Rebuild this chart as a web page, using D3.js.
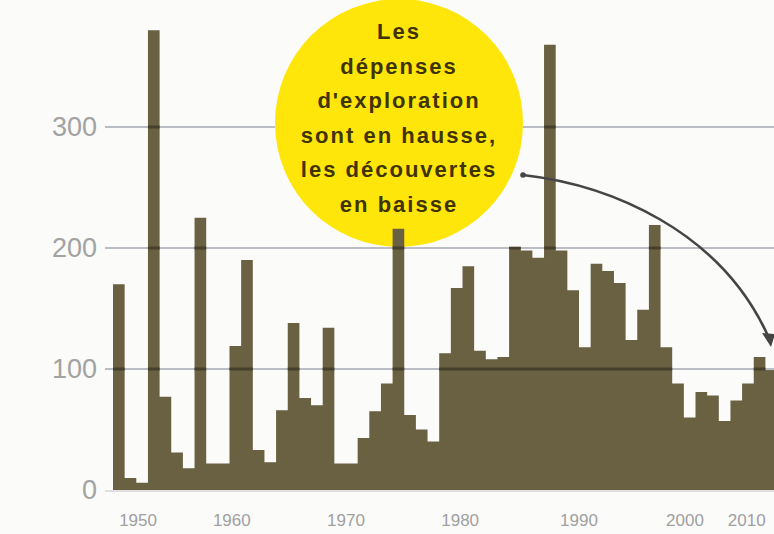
<!DOCTYPE html>
<html>
<head>
<meta charset="utf-8">
<script src="https://cdn.jsdelivr.net/npm/d3@7"></script>
<style>
  html, body { margin: 0; padding: 0; background: #fbfbfa; }
  svg { display: block; }
</style>
</head>
<body>
<svg id="chart" width="774" height="534"></svg>
<script>
// ---- data ----
const barValues = [170, 10, 6, 380, 77, 31, 18, 225, 22, 22,
                   119, 190, 33, 23, 66, 138, 76, 70, 134, 22,
                   22, 43, 65, 88, 216, 62, 50, 40, 113, 167,
                   185, 115, 108, 110, 201, 198, 192, 368, 198, 165,
                   118, 187, 181, 171, 124, 149, 219, 118, 88, 60,
                   81, 78, 57, 74, 88, 110, 99];
const yTicks = [0, 100, 200, 300];
const gridValues = [100, 200, 300];
const xTickLabels = ["1950", "1960", "1970", "1980", "1990", "2000", "2010"];
const xTickAt = [2.15, 10.2, 20.0, 29.8, 40.0, 49.1, 54.4]; // positions in bar units
const noteLines = ["Les", "dépenses", "d'exploration", "sont en hausse,", "les découvertes", "en baisse"];

// ---- scales ----
const svg = d3.select("#chart");
const x = d3.scaleLinear().domain([0, barValues.length]).range([113, 113 + barValues.length * 11.65]);
const y = d3.scaleLinear().domain([0, 300]).range([490, 127]);

const stepData = barValues.concat([barValues[barValues.length - 1]]);
const area = d3.area()
  .x((d, i) => x(i))
  .y0(y(0))
  .y1(d => y(d))
  .curve(d3.curveStepAfter);

const defs = svg.append("defs");
// mask so gridlines pass behind the yellow note
const mask = defs.append("mask").attr("id", "noteMask");
mask.append("rect").attr("x", 0).attr("y", 0).attr("width", 774).attr("height", 534).attr("fill", "white");
mask.append("circle").attr("cx", 399).attr("cy", 123).attr("r", 124).attr("fill", "black");
// clip to the bar silhouette, for the darker parts of gridlines
defs.append("clipPath").attr("id", "barClip")
  .append("path").attr("d", area(stepData));

// baseline
svg.append("line")
  .attr("x1", 105).attr("x2", 774)
  .attr("y1", y(0) + 1).attr("y2", y(0) + 1)
  .attr("stroke", "#d6d6d4").attr("stroke-width", 1.5);

// light gridlines (behind)
svg.append("g").attr("mask", "url(#noteMask)")
  .selectAll("line").data(gridValues).join("line")
  .attr("x1", 105).attr("x2", 774)
  .attr("y1", d => y(d)).attr("y2", d => y(d))
  .attr("stroke", "#babdc3")
  .attr("stroke-width", 2);

// yellow note circle
const note = svg.append("g");
note.append("circle")
  .attr("cx", 399).attr("cy", 123).attr("r", 124)
  .attr("fill", "#ffe60a");
note.selectAll("text").data(noteLines).join("text")
  .attr("x", 399)
  .attr("y", (d, i) => 39 + i * 34.5)
  .attr("text-anchor", "middle")
  .attr("font-family", "Liberation Sans, Arial, sans-serif")
  .attr("font-weight", "bold")
  .attr("font-size", 22)
  .attr("letter-spacing", 2)
  .attr("fill", "#3f3300")
  .text(d => d);

// bars as one stepped silhouette
svg.append("path")
  .attr("d", area(stepData))
  .attr("fill", "#6a6042");

// darker gridline parts over the bars
svg.append("g").attr("clip-path", "url(#barClip)")
  .selectAll("line").data(gridValues).join("line")
  .attr("x1", 105).attr("x2", 774)
  .attr("y1", d => y(d)).attr("y2", d => y(d))
  .attr("stroke", "#463f2c")
  .attr("stroke-width", 3);

// y labels
svg.append("g").selectAll("text").data(yTicks).join("text")
  .attr("x", 97)
  .attr("y", d => y(d) + 9)
  .attr("text-anchor", "end")
  .attr("font-family", "Liberation Sans, Arial, sans-serif")
  .attr("font-size", 27)
  .attr("fill", "#a2a2a2")
  .text(d => d);

// x labels
svg.append("g").selectAll("text").data(xTickLabels).join("text")
  .attr("x", (d, i) => x(xTickAt[i]))
  .attr("y", 526)
  .attr("text-anchor", "middle")
  .attr("font-family", "Liberation Sans, Arial, sans-serif")
  .attr("font-size", 17)
  .attr("fill", "#a0a0a0")
  .text(d => d);

// arrow from the note
svg.append("path")
  .attr("d", "M523,175 C610,185 720,230 768,336")
  .attr("fill", "none")
  .attr("stroke", "#454545")
  .attr("stroke-width", 2.6);
svg.append("circle").attr("cx", 523).attr("cy", 175).attr("r", 2.8).attr("fill", "#454545");
svg.append("path")
  .attr("d", "M762,333 L775,334 L771,347 Z")
  .attr("fill", "#454545");
</script>
</body>
</html>
